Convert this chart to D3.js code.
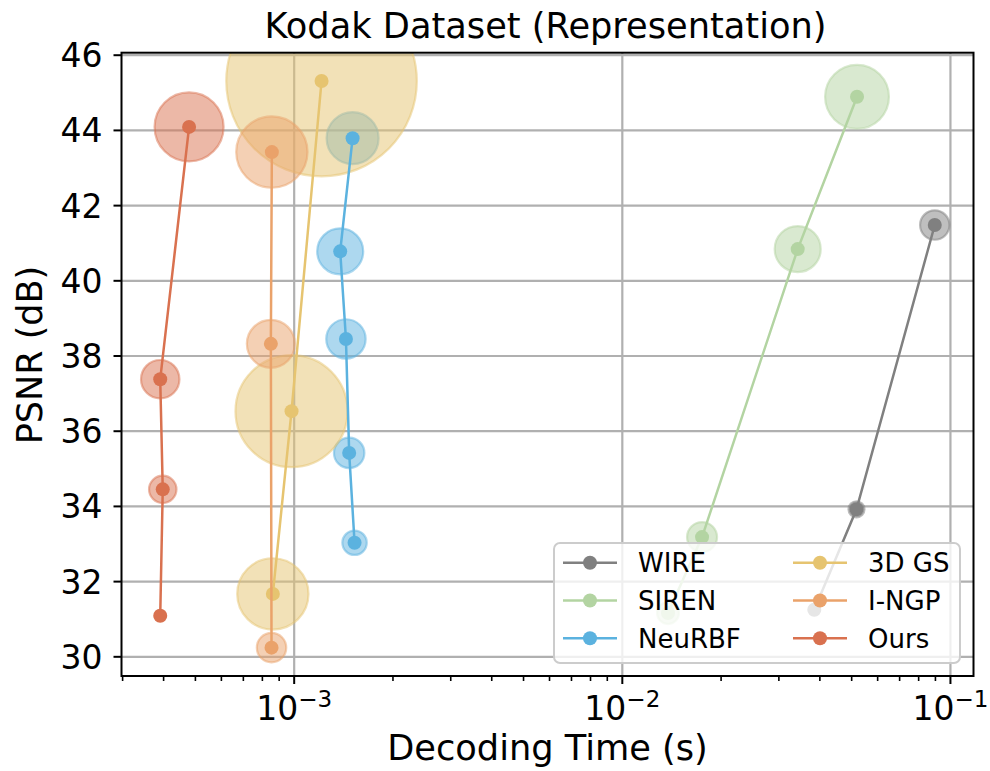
<!DOCTYPE html>
<html>
<head>
<meta charset="utf-8">
<script src="https://cdn.jsdelivr.net/npm/d3@7/dist/d3.min.js"></script>
<style>
	body { margin: 0; background: #fff; }
	#chart text { font-family: "DejaVu Sans", sans-serif; fill: #000; }
</style>
</head>
<body>
<div id="chart"></div>
<script>
// values: decoding time (s), psnr (dB), bubble size
let methods = ["WIRE", "SIREN", "NeuRBF", "3D GS", "I-NGP", "Ours"];
let colors = ["#808080", "#b3d4a2", "#5bb2df", "#e6c470", "#eaa26a", "#d9714f"];

let wire_time = [0.0386, 0.0519, 0.0899];
let wire_psnr = [31.24, 33.91, 41.47];
let wire_size = [0.16, 0.64, 2.16];

let siren_time = [0.01383, 0.01756, 0.03436, 0.0521];
let siren_psnr = [31.15, 33.17, 40.83, 44.88];
let siren_size = [1.2, 2.25, 5.29, 10.2];

let neurbf_time = [0.001533, 0.001476, 0.001443, 0.001386, 0.001512];
let neurbf_psnr = [33.02, 35.41, 38.44, 40.77, 43.78];
let neurbf_size = [1.49, 2.31, 3.88, 5.29, 6.76];

let gs_time = [0.000864, 0.000985, 0.001216];
let gs_psnr = [31.66, 36.52, 45.30];
let gs_size = [12.7, 31.4, 90.8];

let ngp_time = [0.000856, 0.000852, 0.000858];
let ngp_psnr = [30.23, 38.31, 43.41];
let ngp_size = [2.16, 5.76, 12.7];

let ours_time = [0.000392, 0.000399, 0.000392, 0.000480];
let ours_psnr = [31.08, 34.44, 37.37, 44.08];
let ours_size = [0.25, 1.88, 3.69, 11.9];

let x_ticks = [1e-3, 1e-2, 1e-1];
let x_tick_exp = ["\u22123", "\u22122", "\u22121"];
let y_ticks = [30, 32, 34, 36, 38, 40, 42, 44, 46];

function chart() {
	let container = "#chart",
		window_w = 990,
		window_h = 771;

	let margin = {top: 52.7, right: 16.5, bottom: 95, left: 121.5},
		width = window_w - (margin.left + margin.right),
		height = window_h - (margin.top + margin.bottom);

	let times = [wire_time, siren_time, neurbf_time, gs_time, ngp_time, ours_time];
	let psnrs = [wire_psnr, siren_psnr, neurbf_psnr, gs_psnr, ngp_psnr, ours_psnr];
	let sizes = [wire_size, siren_size, neurbf_size, gs_size, ngp_size, ours_size];

	let series = methods.map(function(m, i) {
		return {
			name: m,
			color: colors[i],
			points: times[i].map(function(t, j) {
				return {t: t, p: psnrs[i][j], s: sizes[i][j]};
			})
		};
	});

	let all = d3.merge(series.map(function(d) { return d.points; }));

	// 5% margins like matplotlib autoscale
	let lx = d3.extent(all, function(d) { return Math.log10(d.t); });
	let dx = (lx[1] - lx[0]) * 0.05;
	let ly = d3.extent(all, function(d) { return d.p; });
	let dy = (ly[1] - ly[0]) * 0.05;

	let x = d3.scaleLog()
		.domain([Math.pow(10, lx[0] - dx), Math.pow(10, lx[1] + dx)])
		.range([0, width]);

	let y = d3.scaleLinear()
		.domain([ly[0] - dy, ly[1] + dy])
		.range([height, 0]);

	let r = d3.scaleSqrt()
		.domain([0, 1])
		.range([0, 10]);

	let svg = d3.select(container)
		.append("svg")
		.attr("width", window_w)
		.attr("height", window_h);

	svg.append("defs")
		.append("clipPath")
		.attr("id", "clip")
		.append("rect")
		.attr("width", width)
		.attr("height", height);

	let plot = svg.append("g")
		.attr("transform", "translate(" + margin.left + "," + margin.top + ")");

	// grid
	plot.append("g")
		.attr("class", "grid")
		.call(d3.axisLeft(y).tickValues(y_ticks).tickSize(-width).tickFormat(""))
		.call(function(g) { g.select(".domain").remove(); });

	plot.append("g")
		.attr("class", "grid")
		.attr("transform", "translate(0," + height + ")")
		.call(d3.axisBottom(x).tickValues(x_ticks).tickSize(-height).tickFormat(""))
		.call(function(g) { g.select(".domain").remove(); });

	plot.selectAll(".grid line")
		.attr("stroke", "#b0b0b0")
		.attr("stroke-width", 2.2);

	let inner = plot.append("g")
		.attr("clip-path", "url(#clip)");

	// bubbles
	series.forEach(function(s) {
		inner.append("g")
			.selectAll("circle")
			.data(s.points)
			.enter()
			.append("circle")
			.attr("cx", function(d) { return x(d.t); })
			.attr("cy", function(d) { return y(d.p); })
			.attr("r", function(d) { return r(d.s); })
			.attr("fill", s.color)
			.attr("fill-opacity", 0.5)
			.attr("stroke", s.color)
			.attr("stroke-opacity", 0.5)
			.attr("stroke-width", 2.2);
	});

	let line = d3.line()
		.x(function(d) { return x(d.t); })
		.y(function(d) { return y(d.p); });

	series.forEach(function(s) {
		inner.append("path")
			.datum(s.points)
			.attr("d", line)
			.attr("fill", "none")
			.attr("stroke", s.color)
			.attr("stroke-width", 2.5);

		inner.append("g")
			.selectAll("circle")
			.data(s.points)
			.enter()
			.append("circle")
			.attr("cx", function(d) { return x(d.t); })
			.attr("cy", function(d) { return y(d.p); })
			.attr("r", 7)
			.attr("fill", s.color);
	});

	// axes
	let y_axis = plot.append("g")
		.call(d3.axisLeft(y).tickValues(y_ticks).tickSize(8).tickPadding(11));

	let x_minor = [];
	d3.range(-4, 0).forEach(function(e) {
		d3.range(2, 10).forEach(function(k) {
			let v = k * Math.pow(10, e);
			if (v >= x.domain()[0] * 0.999 && v <= x.domain()[1]) x_minor.push(v);
		});
	});

	let x_minor_axis = plot.append("g")
		.attr("transform", "translate(0," + height + ")")
		.call(d3.axisBottom(x).tickValues(x_minor).tickSize(5).tickFormat(""));

	let x_axis = plot.append("g")
		.attr("transform", "translate(0," + height + ")")
		.call(d3.axisBottom(x).tickValues(x_ticks).tickSize(8));

	plot.selectAll(".domain").remove();
	y_axis.selectAll(".tick line").attr("stroke", "#000").attr("stroke-width", 2);
	x_axis.selectAll(".tick line").attr("stroke", "#000").attr("stroke-width", 2);
	x_minor_axis.selectAll(".tick line").attr("stroke", "#000").attr("stroke-width", 1.6);

	y_axis.selectAll("text")
		.attr("font-size", 33)
		.attr("dy", "0.36em");

	x_axis.selectAll("text")
		.attr("font-size", 33)
		.attr("y", 44)
		.attr("dy", 0)
		.text(null)
		.each(function(d, i) {
			let t = d3.select(this);
			t.append("tspan").text("10");
			t.append("tspan")
				.attr("font-size", 23)
				.attr("dy", -13)
				.text(x_tick_exp[i]);
		});

	// spines
	plot.append("rect")
		.attr("width", width)
		.attr("height", height)
		.attr("fill", "none")
		.attr("stroke", "#000")
		.attr("stroke-width", 2);

	// labels
	svg.append("text")
		.attr("x", margin.left + width / 2 - 2)
		.attr("y", 37.5)
		.attr("text-anchor", "middle")
		.attr("font-size", 35.2)
		.text("Kodak Dataset (Representation)");

	svg.append("text")
		.attr("x", margin.left + width / 2)
		.attr("y", 760)
		.attr("text-anchor", "middle")
		.attr("font-size", 35.2)
		.text("Decoding Time (s)");

	svg.append("text")
		.attr("transform", "translate(41.7,355) rotate(-90)")
		.attr("text-anchor", "middle")
		.attr("font-size", 35)
		.text("PSNR (dB)");

	// legend
	let legend = svg.append("g")
		.attr("transform", "translate(554,543)");

	legend.append("rect")
		.attr("width", 406)
		.attr("height", 120)
		.attr("rx", 6)
		.attr("fill", "#fff")
		.attr("fill-opacity", 0.8)
		.attr("stroke", "#cccccc")
		.attr("stroke-width", 2);

	let items = legend.selectAll(".item")
		.data(series)
		.enter()
		.append("g")
		.attr("class", "item")
		.attr("transform", function(d, i) {
			return "translate(" + (9 + Math.floor(i / 3) * 230) + "," + (19.7 + (i % 3) * 37.8) + ")";
		});

	items.append("line")
		.attr("x1", 0)
		.attr("x2", 54)
		.attr("stroke", function(d) { return d.color; })
		.attr("stroke-width", 2.5);

	items.append("circle")
		.attr("cx", 27)
		.attr("r", 7)
		.attr("fill", function(d) { return d.color; });

	items.append("text")
		.attr("x", 75)
		.attr("y", 9.5)
		.attr("font-size", 26)
		.text(function(d) { return d.name; });
}

chart();
</script>
</body>
</html>
